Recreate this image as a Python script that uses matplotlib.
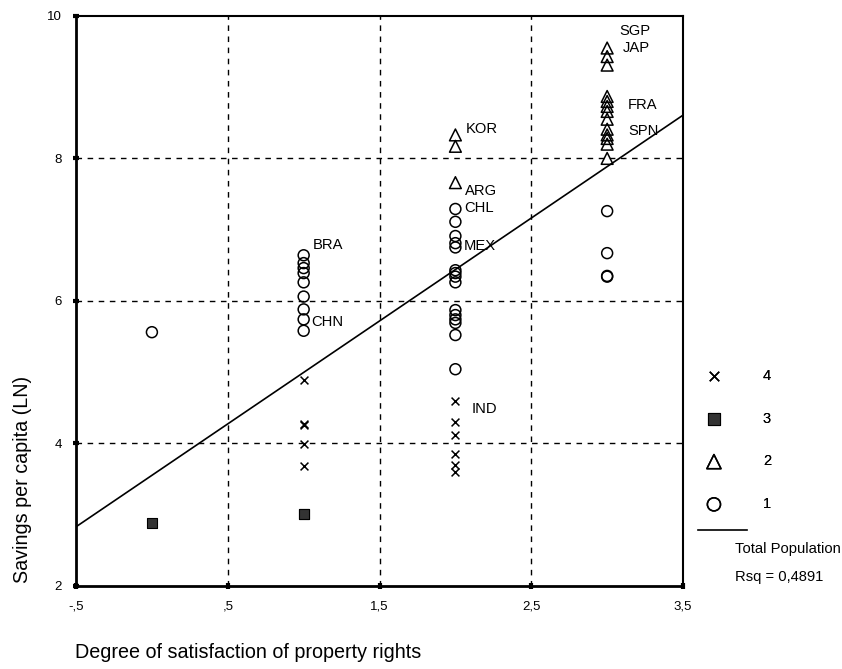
import numpy as np
import matplotlib.pyplot as plt

plt.rcParams['font.family'] = ['Liberation Sans', 'DejaVu Sans']

# Groups (1 = circle, 2 = triangle, 3 = square, 4 = cross)
g1_x = [0, 1, 1, 1, 1, 1, 1, 1, 1, 1,
        2, 2, 2, 2, 2, 2, 2, 2, 2, 2, 2, 2, 2, 2, 2,
        3, 3, 3, 3]
g1_y = [5.56, 6.64, 6.53, 6.46, 6.39, 6.26, 6.06, 5.88, 5.74, 5.58,
        7.29, 7.11, 6.91, 6.81, 6.75, 6.43, 6.39, 6.34, 6.26, 5.87, 5.80, 5.74, 5.69, 5.52, 5.04,
        7.26, 6.67, 6.35, 6.34]

g2_x = [2, 2, 2,
        3, 3, 3, 3, 3, 3, 3, 3, 3, 3, 3, 3, 3]
g2_y = [8.33, 8.17, 7.66,
        9.55, 9.43, 9.31, 8.87, 8.80, 8.73, 8.66, 8.55, 8.41, 8.33, 8.28, 8.20, 8.00]

g3_x = [0, 1, 1]
g3_y = [2.875, 3.00, 3.00]

g4_x = [1, 1, 1, 1, 1, 2, 2, 2, 2, 2, 2]
g4_y = [4.89, 4.27, 4.25, 3.985, 3.68, 4.60, 4.30, 4.11, 3.85, 3.69, 3.59]

# country labels (text anchor in data units)
lab_text = ['BRA', 'CHN', 'KOR', 'ARG', 'CHL', 'MEX', 'IND', 'SGP', 'JAP', 'FRA', 'SPN']
lab_x = [1.062, 1.049, 2.065, 2.065, 2.058, 2.055, 2.108, 3.078, 3.102, 3.137, 3.137]
lab_y = [6.78, 5.70, 8.41, 7.54, 7.30, 6.77, 4.48, 9.79, 9.55, 8.75, 8.39]

# fitted line (Total Population)
fit_intercept = 3.55
fit_slope = 1.445
rsq = '0,4891'

xticks = [-0.5, 0.5, 1.5, 2.5, 3.5]
xticklabels = ['-,5', ',5', '1,5', '2,5', '3,5']
yticks = [2, 4, 6, 8, 10]

fig = plt.figure(figsize=(8.42, 6.69), dpi=100)
ax = fig.add_axes([0.0903, 0.1245, 0.7209, 0.8516])

for v in [0.5, 1.5, 2.5]:
    ax.axvline(v, color='black', ls=(0, (4, 4)), lw=1, zorder=1)
for v in [4, 6, 8]:
    ax.axhline(v, color='black', ls=(0, (4, 4)), lw=1, zorder=1)

fx = np.array([-0.5, 3.5])
line, = ax.plot(fx, fit_intercept + fit_slope * fx, color='black', lw=1.2, zorder=2)

h1 = ax.scatter(g1_x, g1_y, s=62, marker='o', facecolors='none', edgecolors='black', linewidths=1.1, zorder=3)
h2 = ax.scatter(g2_x, g2_y, s=72, marker='^', facecolors='none', edgecolors='black', linewidths=1.1, zorder=3)
h3 = ax.scatter(g3_x, g3_y, s=55, marker='s', facecolors='#333333', edgecolors='black', linewidths=0.8, zorder=3)
h4 = ax.scatter(g4_x, g4_y, s=32, marker='x', color='black', linewidths=1.1, zorder=3)

for t, x, y in zip(lab_text, lab_x, lab_y):
    ax.text(x, y, t, fontsize=10.6, ha='left', va='center', zorder=4)

ax.set_xlim(-0.5, 3.5)
ax.set_ylim(2, 10)
ax.set_xticks(xticks)
ax.set_xticklabels(xticklabels)
ax.set_yticks(yticks)
ax.tick_params(direction='inout', length=4, width=3, labelsize=9.5, pad=9)
ax.tick_params(axis='y', pad=8)
for side in ['left', 'bottom']:
    ax.spines[side].set_linewidth(2)
for side in ['top', 'right']:
    ax.spines[side].set_linewidth(1.5)

fig.text(23 / 842, 1 - 583 / 669, 'Savings per capita (LN)', rotation=90,
         ha='center', va='bottom', fontsize=14.2)
fig.text(75 / 842, 1 - 652 / 669, 'Degree of satisfaction of property rights',
         ha='left', va='center', fontsize=14.2)

leg1 = fig.legend([h4, h3, h2, h1], ['4', '3', '2', '1'], loc='upper left',
                  bbox_to_anchor=(703 / 842, 1 - 369 / 669), frameon=False,
                  fontsize=10.5, labelspacing=1.97, handletextpad=2.6, handlelength=1.5,
                  markerscale=1.2, borderaxespad=0, borderpad=0)
fig.add_artist(leg1)
fig.legend([line], [''], loc='upper left', bbox_to_anchor=(698 / 842, 1 - 524 / 669),
           frameon=False, handlelength=3.5, borderaxespad=0, borderpad=0)
fig.text(735 / 842, 1 - 549 / 669, 'Total Population', ha='left', va='center', fontsize=10.6)
fig.text(735 / 842, 1 - 577 / 669, 'Rsq = ' + rsq, ha='left', va='center', fontsize=10.6)

fig.savefig('out.png', dpi=100)
